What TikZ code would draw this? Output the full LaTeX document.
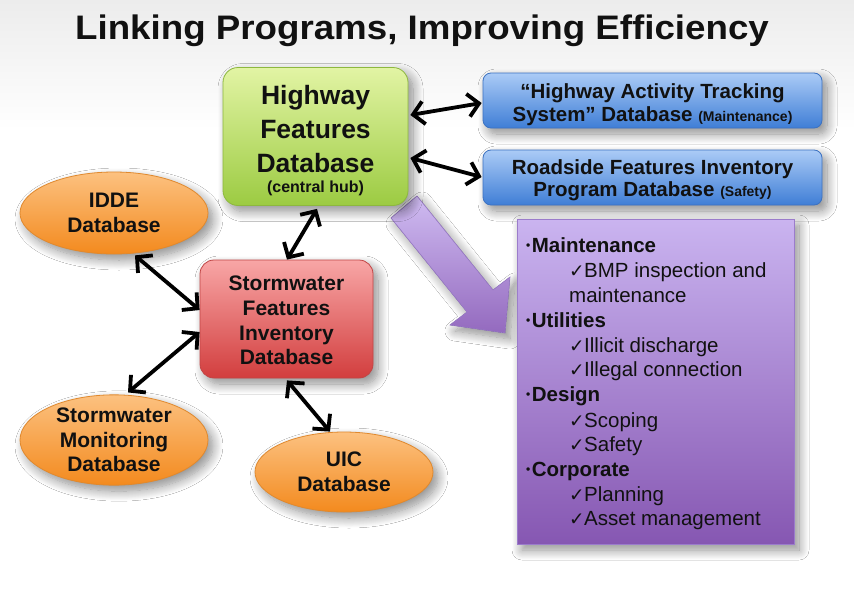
\documentclass[tikz,border=0pt]{standalone}
\usepackage{fontspec}
\setmainfont{Liberation Sans}
\newfontfamily\symfont{DejaVu Sans}
\usetikzlibrary{arrows.meta,shadows.blur,calc,shapes.geometric}

\definecolor{greenTop}{HTML}{E2F4A4}
\definecolor{greenBot}{HTML}{9CCB42}
\definecolor{greenEdge}{HTML}{8DB83E}
\definecolor{blueTop}{HTML}{ABCBF6}
\definecolor{blueBot}{HTML}{3F7ED6}
\definecolor{blueEdge}{HTML}{3C72C2}
\definecolor{redTop}{HTML}{F8A6A6}
\definecolor{redBot}{HTML}{D23E3E}
\definecolor{redEdge}{HTML}{C24545}
\definecolor{orTop}{HTML}{FCC180}
\definecolor{orBot}{HTML}{F38A1E}
\definecolor{orEdge}{HTML}{E0892E}
\definecolor{puTop}{HTML}{CAB4F0}
\definecolor{puBot}{HTML}{8657B2}
\definecolor{puEdge}{HTML}{9B7CCB}
\definecolor{inkText}{HTML}{111111}
\definecolor{paper}{HTML}{ECECEC}

\newcommand{\chk}{{\symfont\fontsize{18.5}{20}\selectfont ✓}\kern-0.5pt}
\newcommand{\blt}{{\fontsize{12}{12}\selectfont\raisebox{3pt}{•}}\kern1.5pt}

\begin{document}
\begin{tikzpicture}[x=1pt,y=-1pt,
  softshadow/.style={blur shadow={shadow xshift=5pt,shadow yshift=-6pt,
      shadow blur radius=10pt,shadow blur steps=14,shadow opacity=45}},
  hubbox/.style={draw=greenEdge,line width=0.8pt,rounded corners=15pt,
      top color=greenTop,bottom color=greenBot,softshadow,
      minimum width=185pt,minimum height=138pt,inner sep=0pt},
  hubtext/.style={anchor=base,inner sep=0pt,text=inkText,
      font=\fontsize{26.5}{30}\selectfont\bfseries},
  dbbox/.style={draw=blueEdge,line width=0.8pt,rounded corners=8pt,
      top color=blueTop,bottom color=blueBot,softshadow,
      minimum width=339pt,minimum height=55pt,inner sep=0pt},
  dbtext/.style={inner sep=0pt,text=inkText,align=center,
      font=\fontsize{20.5}{22.5}\selectfont\bfseries},
  swbox/.style={draw=redEdge,line width=0.8pt,rounded corners=14pt,
      top color=redTop,bottom color=redBot,softshadow,
      minimum width=173pt,minimum height=118pt,inner sep=0pt},
  swtext/.style={inner sep=0pt,text=inkText,align=center,
      font=\fontsize{21}{24.7}\selectfont\bfseries},
  oval/.style={ellipse,draw=orEdge,line width=0.8pt,
      top color=orTop,bottom color=orBot,softshadow,inner sep=0pt,
      text=inkText,align=center,font=\fontsize{21}{24.5}\selectfont\bfseries},
  listbox/.style={draw=puEdge,line width=0.8pt,
      top color=puTop,bottom color=puBot,softshadow,
      minimum width=277pt,minimum height=325pt,inner sep=0pt},
  head/.style={anchor=base west,inner sep=0pt,text=inkText,
      font=\fontsize{20.5}{22}\selectfont\bfseries},
  item/.style={anchor=base west,inner sep=0pt,text=inkText,
      font=\fontsize{20.5}{22}\selectfont},
  link/.style={line width=3.8pt,black,
      {Straight Barb[length=11pt,width=23pt,line width=3.8pt]}-{Straight Barb[length=11pt,width=23pt,line width=3.8pt]}}
]
\useasboundingbox (0,0) rectangle (854,600);
\fill[white] (0,0) rectangle (854,600);
\shade[top color=paper,bottom color=white] (0,0) rectangle (854,130);

% heading
\node[anchor=base,inner sep=0pt,font=\fontsize{34}{40}\selectfont\bfseries,text=inkText] (title) at (422,39.5)
  {\scalebox{1.08}[1]{Linking Programs, Improving Efficiency}};

% block arrow from the hub towards the list of uses
\filldraw[draw=puEdge,line width=0.6pt,top color=puTop!90!white,bottom color=puBot!80!puTop,
  softshadow]
  (391,218) -- (417,196) -- (493,290) -- (510,277) -- (505,333)
  -- (450,325) -- (467,312) -- cycle;

% central hub
\node[hubbox] (hub) at (315.5,136.5) {};
\node[hubtext] (hubA) at (315.5,104) {Highway};
\node[hubtext] (hubB) at (315.5,138.5) {Features};
\node[hubtext] (hubC) at (315.5,172) {Database};
\node[hubtext,font=\fontsize{16}{18}\selectfont\bfseries] (hubD) at (315.5,192.5) {(central hub)};

% linked program databases
\node[dbbox] (hats) at (652.5,100.5) {};
\node[dbtext] (hatsT) at (652.5,104.5)
  {“Highway Activity Tracking\\
   System” Database {\fontsize{14}{16}\selectfont(Maintenance)}};
\node[dbbox] (rfip) at (652.5,177.5) {};
\node[dbtext] (rfipT) at (652.5,180)
  {Roadside Features Inventory\\
   Program Database {\fontsize{14}{16}\selectfont(Safety)}};

\node[swbox] (sfi) at (286.5,319) {};
\node[swtext] (sfiT) at (286.5,320.5)
  {Stormwater\\Features\\Inventory\\Database};

\node[oval,minimum width=188pt,minimum height=82pt] (idde) at (114,213)
  {IDDE\\Database};
\node[oval,minimum width=188pt,minimum height=86pt] (mon) at (114,440)
  {Stormwater\\Monitoring\\Database};
\node[oval,minimum width=178pt,minimum height=80pt] (uic) at (344,472)
  {UIC\\Database};

% list of uses
\node[listbox] (uses) at (655.5,381.5) {};
\node[head] (u1)  at (526,252) {\blt Maintenance};
\node[item] (u2)  at (569,277) {\chk BMP inspection and};
\node[item] (u3)  at (569,302) {maintenance};
\node[head] (u4)  at (526,327) {\blt Utilities};
\node[item] (u5)  at (569,352) {\chk Illicit discharge};
\node[item] (u6)  at (569,376) {\chk Illegal connection};
\node[head] (u7)  at (526,401) {\blt Design};
\node[item] (u8)  at (569,427) {\chk Scoping};
\node[item] (u9)  at (569,451) {\chk Safety};
\node[head] (u10) at (526,476) {\blt Corporate};
\node[item] (u11) at (569,501) {\chk Planning};
\node[item] (u12) at (569,525) {\chk Asset management};

% two-way links
\draw[link] ($(hub.east)+(2,-21.5)$) -- ($(hats.west)+(-1,2.5)$);
\draw[link] ($(hub.east)+(2,21.5)$) -- ($(rfip.west)+(-1,-0.5)$);
\draw[link] ($(hub.south)+(1.5,3)$) -- ($(sfi.north)+(0.5,0)$);
\draw[link] ($(idde.south)+(21,1)$) -- ($(sfi.west)+(0,-9)$);
\draw[link] ($(sfi.west)+(0,13)$) -- ($(mon.north)+(14,-2)$);
\draw[link] ($(sfi.south)+(0.5,2)$) -- ($(uic.north)+(-14,0)$);
\end{tikzpicture}
\end{document}
